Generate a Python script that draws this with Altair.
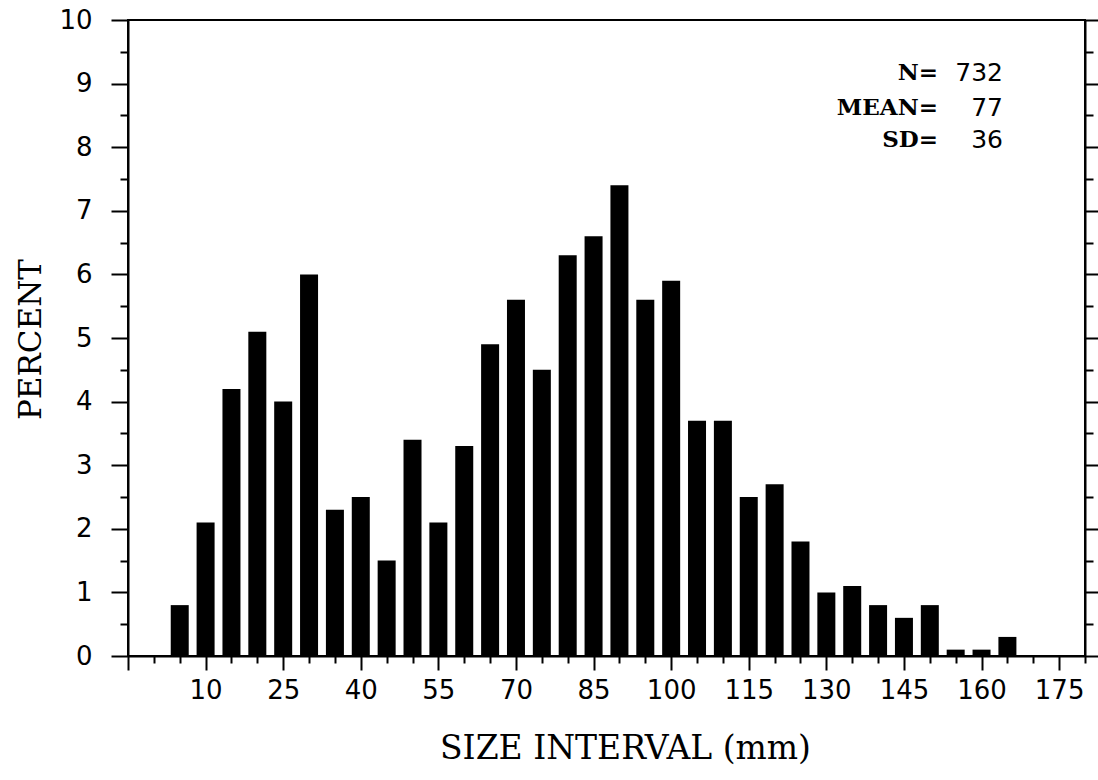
import altair as alt
import pandas as pd

# ---- data ----
size_interval = [5, 10, 15, 20, 25, 30, 35, 40, 45, 50, 55, 60, 65, 70, 75, 80, 85,
                 90, 95, 100, 105, 110, 115, 120, 125, 130, 135, 140, 145, 150, 155, 160, 165]
percent = [0.8, 2.1, 4.2, 5.1, 4.0, 6.0, 2.3, 2.5, 1.5, 3.4, 2.1, 3.3, 4.9, 5.6, 4.5, 6.3, 6.6,
           7.4, 5.6, 5.9, 3.7, 3.7, 2.5, 2.7, 1.8, 1.0, 1.1, 0.8, 0.6, 0.8, 0.1, 0.1, 0.3]
x_tick_values = list(range(-5, 181, 5))
y_tick_values = [i * 0.5 for i in range(21)]
stat_labels = ["N=", "MEAN=", "SD="]
stat_values = ["732", "77", "36"]

df = pd.DataFrame({"size": size_interval, "percent": percent})

W, H = 957, 636
SANS = "DejaVu Sans"
SERIF = "DejaVu Serif"

xscale = alt.Scale(domain=[-5, 180], nice=False, zero=False, padding=0)
yscale = alt.Scale(domain=[0, 10], nice=False, zero=True, padding=0)

x_axis = alt.Axis(
    values=x_tick_values,
    title="SIZE INTERVAL (mm)",
    labelExpr="((datum.value + 5) % 15 == 0 && datum.value > 0) ? format(datum.value, 'd') : ''",
    tickSize={"condition": {"test": "(datum.value + 5) % 15 == 0", "value": 14}, "value": 7},
    labelPadding=7,
    labelFont=SANS, labelFontSize=26, labelColor="black", labelFlush=False,
    labelOverlap=False,
    titleFont=SERIF, titleFontSize=33, titleFontWeight="normal", titleColor="black",
    titleX=497, titleY=102, titleBaseline="alphabetic", titleAnchor="middle", titleAlign="center",
    grid=False, domainColor="black", domainWidth=2, tickColor="black", tickWidth=2,
)

y_axis_left = alt.Axis(
    values=y_tick_values,
    title="PERCENT",
    labelExpr="(datum.value % 1 == 0) ? format(datum.value, 'd') : ''",
    tickSize={"condition": {"test": "datum.value % 1 == 0", "value": 17}, "value": 8},
    labelPadding=19,
    labelFont=SANS, labelFontSize=26, labelColor="black", labelOverlap=False, labelFlush=False,
    titleFont=SERIF, titleFontSize=31, titleFontWeight="normal", titleColor="black",
    titleX=-88, titleY=319, titleAngle=270, titleBaseline="alphabetic", titleAlign="center",
    grid=False, domainColor="black", domainWidth=2, tickColor="black", tickWidth=2,
)

y_axis_right = alt.Axis(
    orient="right",
    values=y_tick_values,
    title=None,
    labels=False,
    tickSize={"condition": {"test": "datum.value % 1 == 0", "value": 16}, "value": 8},
    grid=False, domainColor="black", domainWidth=2, tickColor="black", tickWidth=2,
)

bars = alt.Chart(df).mark_bar(color="black", size=18).encode(
    x=alt.X("size:Q", scale=xscale, axis=x_axis),
    y=alt.Y("percent:Q", scale=yscale, axis=y_axis_left),
)

right_layer = alt.Chart(df).mark_bar(opacity=0, size=18).encode(
    x=alt.X("size:Q", scale=xscale, axis=x_axis),
    y=alt.Y("percent:Q", scale=yscale, axis=y_axis_right),
)

layers = [bars, right_layer]
line_y = [53, 88, 120]
for i in range(len(stat_labels)):
    layers.append(
        alt.Chart(pd.DataFrame({"t": [stat_labels[i]]})).mark_text(
            font=SERIF, fontSize=23, fontWeight="bold", align="right", baseline="middle", color="black"
        ).encode(text="t:N", x=alt.value(810), y=alt.value(line_y[i]))
    )
    layers.append(
        alt.Chart(pd.DataFrame({"t": [stat_values[i]]})).mark_text(
            font=SANS, fontSize=25, align="right", baseline="middle", color="black"
        ).encode(text="t:N", x=alt.value(875), y=alt.value(line_y[i]))
    )

chart = alt.layer(*layers).resolve_axis(y="independent").properties(
    width=W, height=H,
    autosize=alt.AutoSizeParams(type="none"),
    padding={"left": 128, "top": 20, "right": 13, "bottom": 124},
    background="white",
).configure_view(stroke="black", strokeWidth=2)

chart.save("out.html", embed_options={"renderer": "svg", "actions": False})
